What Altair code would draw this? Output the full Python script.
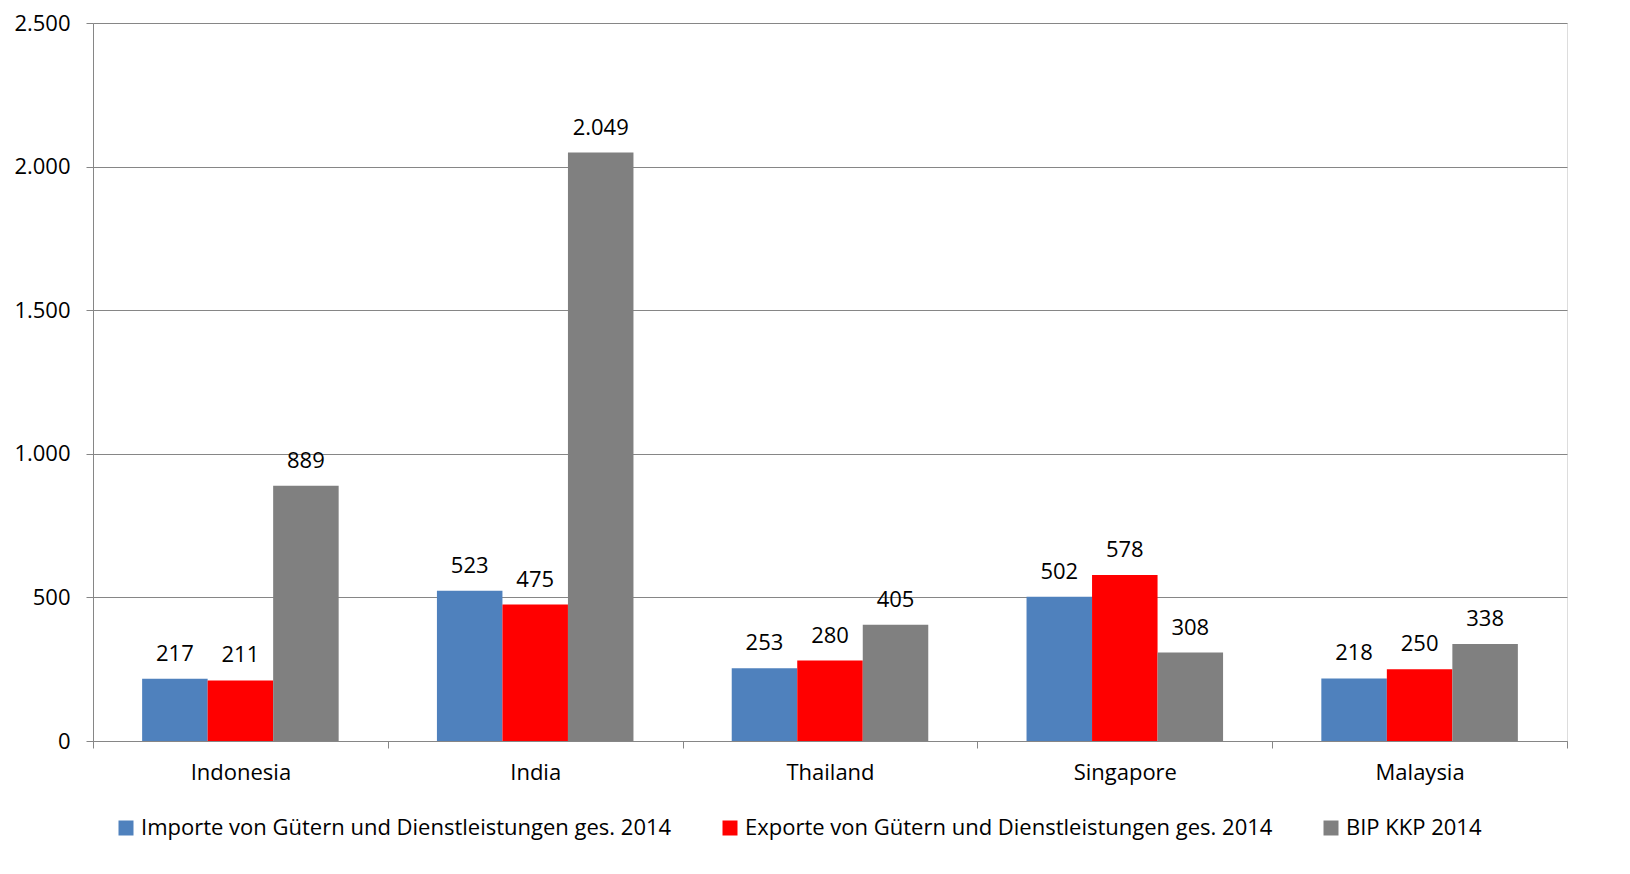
import altair as alt
import pandas as pd

countries = ["Indonesia", "India", "Thailand", "Singapore", "Malaysia"]
series = [
    "Importe von Gütern und Dienstleistungen ges. 2014",
    "Exporte von Gütern und Dienstleistungen ges. 2014",
    "BIP KKP 2014",
]
importe = [217, 523, 253, 502, 218]
exporte = [211, 475, 280, 578, 250]
bip = [889, 2049, 405, 308, 338]
colors = ["#4F81BD", "#FF0000", "#808080"]
y_ticks = [0, 500, 1000, 1500, 2000, 2500]

rows = []
for s, vals in zip(series, [importe, exporte, bip]):
    for c, v in zip(countries, vals):
        rows.append({"country": c, "series": s, "value": v,
                     "label": f"{v:,}".replace(",", ".")})
df = pd.DataFrame(rows)

FONT = "Open Sans"
FS = 22
GRID = "#868686"

x = alt.X(
    "country:N", sort=countries, title=None,
    scale=alt.Scale(paddingInner=0, paddingOuter=0),
    axis=alt.Axis(labelAngle=0, tickBand="extent", domainColor=GRID, tickColor=GRID,
                  tickSize=7, labelFontSize=FS, labelColor="black", labelPadding=14,
                  grid=False, labelFont=FONT),
)
xo = alt.XOffset("series:N", sort=series,
                 scale=alt.Scale(paddingInner=0, paddingOuter=0.75))
y = alt.Y(
    "value:Q", title=None,
    scale=alt.Scale(domain=[0, 2500], nice=False),
    axis=alt.Axis(values=y_ticks, tickSize=7, tickColor=GRID, domainColor=GRID,
                  grid=True, gridColor=GRID, labelFontSize=FS, labelColor="black",
                  labelPadding=16, labelFont=FONT,
                  labelExpr="replace(format(datum.value, ','), ',', '.')"),
)
color = alt.Color(
    "series:N", sort=series,
    scale=alt.Scale(domain=series, range=colors),
    legend=alt.Legend(title=None, orient="none", legendX=22, legendY=794,
                      direction="horizontal", symbolType="square", symbolSize=225,
                      symbolStrokeWidth=0, labelFontSize=FS, labelColor="black",
                      labelFont=FONT, columnPadding=47, labelLimit=1000, labelOffset=4),
)

bars = alt.Chart(df).mark_bar().encode(x=x, xOffset=xo, y=y, color=color)
text = alt.Chart(df).mark_text(baseline="bottom", dy=-13, fontSize=FS, font=FONT,
                               color="black").encode(x=x, xOffset=xo, y=y, text="label:N")

chart = (bars + text).properties(
    width=1474, height=718,
    autosize=alt.AutoSizeParams(type="none"),
    padding={"left": 85, "top": 15, "right": 40, "bottom": 110},
).configure_view(stroke=None).configure(font=FONT)

chart.save("out.html", embed_options={"renderer": "svg", "actions": False})
